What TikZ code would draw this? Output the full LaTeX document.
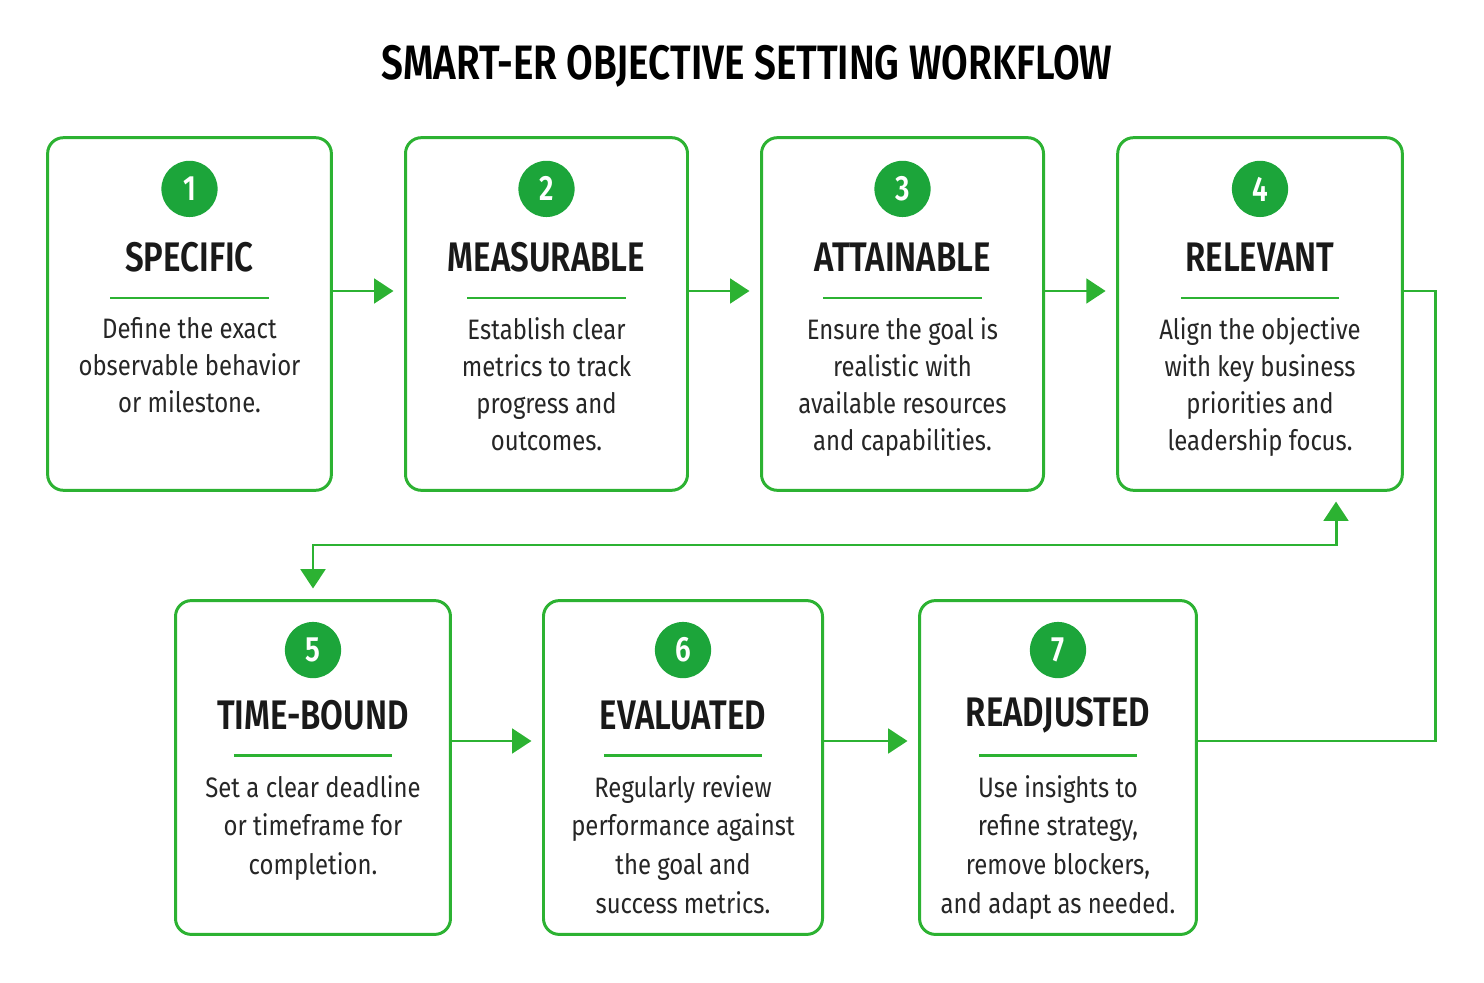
\documentclass[tikz,border=0pt]{standalone}
\usepackage{fontspec}
\setmainfont{Fira Sans}
\newfontfamily\condfont{Fira Sans}[FakeStretch=0.85]
\newfontfamily\condbold{Fira Sans SemiBold}[FakeStretch=0.80]
\usetikzlibrary{arrows.meta}
\definecolor{smartgreen}{RGB}{44,178,50}
\definecolor{dotgreen}{RGB}{28,165,58}
\tikzset{%
  stepbox/.style = {draw=smartgreen, line width=1.7pt, rounded corners=9pt,%
                    minimum height=#1, inner sep=0pt},%
  badge/.style   = {circle, fill=dotgreen, text=white, minimum size=32pt,%
                    inner sep=0pt, font=\condbold\fontsize{20}{20}\selectfont},%
  steptitle/.style = {font=\condbold\fontsize{23.5}{24}\selectfont, text=black!90},%
  stepbody/.style  = {anchor=north, align=center, inner sep=0pt, text=black!85},%
  flow/.style    = {draw=smartgreen, line width=1.7pt,%
                    -{Triangle[length=11pt,width=14pt]}, shorten >=6pt}%
}
\newcommand{\smartstep}[9]{%
  \node[stepbox=#4, minimum width=#3] (b#1) at (#2) {};
  \node[badge] (n#1) at ([yshift=#5]b#1.north) {#1};
  \node[steptitle] (t#1) at ([yshift=#6]b#1.north) {#7};
  \draw[smartgreen, line width=1.2pt] ([xshift=-45pt,yshift=#6-23pt]b#1.north) -- ([xshift=45pt,yshift=#6-23pt]b#1.north);
  \node[stepbody, font=#8] (d#1) at ([yshift=#6-34pt]b#1.north) {#9};
}
\begin{document}
\begin{tikzpicture}[x=0.02cm, y=-0.02cm]
  \useasboundingbox (0,0) rectangle (1484,983);
  \node[font=\condbold\fontsize{27.5}{28}\selectfont] (title) at (747,66) {SMART-ER OBJECTIVE SETTING WORKFLOW};
  % top row
  \smartstep{1}{189.5,314}{161.5pt}{200.7pt}{-30pt}{-69pt}{SPECIFIC}%
    {\condfont\fontsize{16}{21}\selectfont}{Define the exact\\observable behavior\\or milestone.}
  \smartstep{2}{546.5,314}{160.5pt}{200.7pt}{-30pt}{-69pt}{MEASURABLE}%
    {\condfont\fontsize{16}{21}\selectfont}{Establish clear\\metrics to track\\progress and\\outcomes.}
  \smartstep{3}{902.5,314}{160.5pt}{200.7pt}{-30pt}{-69pt}{ATTAINABLE}%
    {\condfont\fontsize{16}{21}\selectfont}{Ensure the goal is\\realistic with\\available resources\\and capabilities.}
  \smartstep{4}{1260,314}{162pt}{200.7pt}{-30pt}{-69pt}{RELEVANT}%
    {\condfont\fontsize{16}{21}\selectfont}{Align the objective\\with key business\\priorities and\\leadership focus.}
  % bottom row
  \smartstep{5}{313,767.5}{156.5pt}{190pt}{-29pt}{-66pt}{TIME-BOUND}%
    {\condfont\fontsize{16}{22}\selectfont}{Set a clear deadline\\or timeframe for\\completion.}
  \smartstep{6}{683,767.5}{158.8pt}{190pt}{-29pt}{-66pt}{EVALUATED}%
    {\condfont\fontsize{16}{22}\selectfont}{Regularly review\\performance against\\the goal and\\success metrics.}
  \smartstep{7}{1058,767.5}{157.6pt}{190pt}{-29pt}{-66pt}{READJUSTED}%
    {\condfont\fontsize{16}{22}\selectfont}{Use insights to\\refine strategy,\\remove blockers,\\and adapt as needed.}
  \coordinate (r1) at (0,291);
  \coordinate (r2) at (0,741);
  \coordinate (turn) at (313,545);
  \coordinate (up) at (1336,491);
  \draw[flow] (b1.east |- r1) -- (b2.west |- r1);
  \draw[flow] (b2.east |- r1) -- (b3.west |- r1);
  \draw[flow] (b3.east |- r1) -- (b4.west |- r1);
  \draw[flow] (b5.east |- r2) -- (b6.west |- r2);
  \draw[flow] (b6.east |- r2) -- (b7.west |- r2);
  \draw[smartgreen, line width=1.7pt] (b4.east |- r1) -- ++(32,0) |- (b7.east |- r2);
  \draw[flow, {Triangle[length=11pt,width=14pt]}-{Triangle[length=11pt,width=14pt]}, shorten <=6pt]
    (b5.north) |- (turn) -| (up);
\end{tikzpicture}
\end{document}
